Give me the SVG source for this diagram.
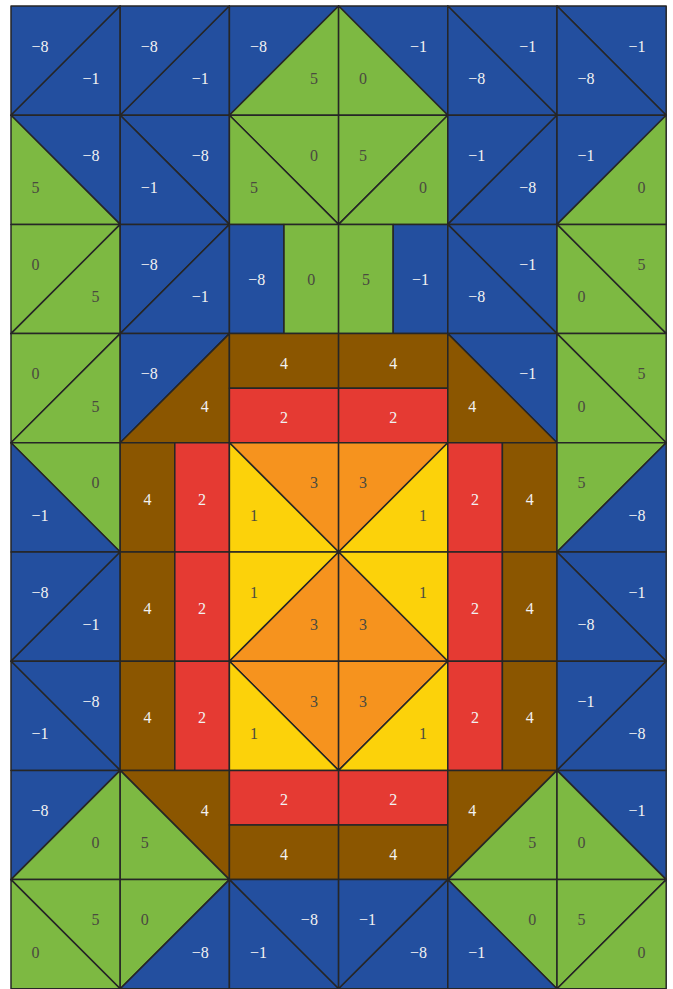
<svg xmlns="http://www.w3.org/2000/svg" xmlns:xlink="http://www.w3.org/1999/xlink" width="673" height="989" viewBox="0 0 673 989">
<style>
use{stroke:#262626;stroke-width:1.5;stroke-linejoin:round}
.b{fill:#234f9f}.g{fill:#7db942}.n{fill:#8b5600}.r{fill:#e53a33}.o{fill:#f6931e}.y{fill:#fcd20a}
text{font-family:"Liberation Serif","DejaVu Serif",serif;font-size:16px}
.w{fill:#f2f2f2}.d{fill:#4a4a40}
.s{text-anchor:start}.e{text-anchor:end}.m{text-anchor:middle}
</style>
<defs>
<path id="ul" d="M0,0H109.2L0,109.2Z"/>
<path id="lr" d="M109.2,0V109.2H0Z"/>
<path id="ur" d="M0,0H109.2V109.2Z"/>
<path id="ll" d="M0,0L109.2,109.2H0Z"/>
<path id="vl" d="M0,0H54.6V109.2H0Z"/>
<path id="vr" d="M54.6,0H109.2V109.2H54.6Z"/>
<path id="ht" d="M0,0H109.2V54.6H0Z"/>
<path id="hb" d="M0,54.6H109.2V109.2H0Z"/>
</defs>
<rect width="673" height="989" fill="#fff"/>
<!-- Row 0 -->
<g id="c00" transform="translate(11,6)"><use href="#ul" class="b"/><use href="#lr" class="b"/><text class="w s" x="20.5" y="45.5">−8</text><text class="w e" x="88.5" y="78">−1</text></g>
<g id="c01" transform="translate(120.2,6)"><use href="#ul" class="b"/><use href="#lr" class="b"/><text class="w s" x="20.5" y="45.5">−8</text><text class="w e" x="88.5" y="78">−1</text></g>
<g id="c02" transform="translate(229.4,6)"><use href="#ul" class="b"/><use href="#lr" class="g"/><text class="w s" x="20.5" y="45.5">−8</text><text class="d e" x="88.5" y="78">5</text></g>
<g id="c03" transform="translate(338.6,6)"><use href="#ur" class="b"/><use href="#ll" class="g"/><text class="w e" x="88.5" y="45.5">−1</text><text class="d s" x="20.5" y="78">0</text></g>
<g id="c04" transform="translate(447.8,6)"><use href="#ur" class="b"/><use href="#ll" class="b"/><text class="w e" x="88.5" y="45.5">−1</text><text class="w s" x="20.5" y="78">−8</text></g>
<g id="c05" transform="translate(557,6)"><use href="#ur" class="b"/><use href="#ll" class="b"/><text class="w e" x="88.5" y="45.5">−1</text><text class="w s" x="20.5" y="78">−8</text></g>
<!-- Row 1 -->
<g id="c10" transform="translate(11,115.2)"><use href="#ur" class="b"/><use href="#ll" class="g"/><text class="w e" x="88.5" y="45.5">−8</text><text class="d s" x="20.5" y="78">5</text></g>
<g id="c11" transform="translate(120.2,115.2)"><use href="#ur" class="b"/><use href="#ll" class="b"/><text class="w e" x="88.5" y="45.5">−8</text><text class="w s" x="20.5" y="78">−1</text></g>
<g id="c12" transform="translate(229.4,115.2)"><use href="#ur" class="g"/><use href="#ll" class="g"/><text class="d e" x="88.5" y="45.5">0</text><text class="d s" x="20.5" y="78">5</text></g>
<g id="c13" transform="translate(338.6,115.2)"><use href="#ul" class="g"/><use href="#lr" class="g"/><text class="d s" x="20.5" y="45.5">5</text><text class="d e" x="88.5" y="78">0</text></g>
<g id="c14" transform="translate(447.8,115.2)"><use href="#ul" class="b"/><use href="#lr" class="b"/><text class="w s" x="20.5" y="45.5">−1</text><text class="w e" x="88.5" y="78">−8</text></g>
<g id="c15" transform="translate(557,115.2)"><use href="#ul" class="b"/><use href="#lr" class="g"/><text class="w s" x="20.5" y="45.5">−1</text><text class="d e" x="88.5" y="78">0</text></g>
<!-- Row 2 -->
<g id="c20" transform="translate(11,224.4)"><use href="#ul" class="g"/><use href="#lr" class="g"/><text class="d s" x="20.5" y="45.5">0</text><text class="d e" x="88.5" y="78">5</text></g>
<g id="c21" transform="translate(120.2,224.4)"><use href="#ul" class="b"/><use href="#lr" class="b"/><text class="w s" x="20.5" y="45.5">−8</text><text class="w e" x="88.5" y="78">−1</text></g>
<g id="c22" transform="translate(229.4,224.4)"><use href="#vl" class="b"/><use href="#vr" class="g"/><text class="w m" x="27.3" y="61">−8</text><text class="d m" x="81.9" y="61">0</text></g>
<g id="c23" transform="translate(338.6,224.4)"><use href="#vl" class="g"/><use href="#vr" class="b"/><text class="d m" x="27.3" y="61">5</text><text class="w m" x="81.9" y="61">−1</text></g>
<g id="c24" transform="translate(447.8,224.4)"><use href="#ur" class="b"/><use href="#ll" class="b"/><text class="w e" x="88.5" y="45.5">−1</text><text class="w s" x="20.5" y="78">−8</text></g>
<g id="c25" transform="translate(557,224.4)"><use href="#ur" class="g"/><use href="#ll" class="g"/><text class="d e" x="88.5" y="45.5">5</text><text class="d s" x="20.5" y="78">0</text></g>
<!-- Row 3 -->
<g id="c30" transform="translate(11,333.6)"><use href="#ul" class="g"/><use href="#lr" class="g"/><text class="d s" x="20.5" y="45.5">0</text><text class="d e" x="88.5" y="78">5</text></g>
<g id="c31" transform="translate(120.2,333.6)"><use href="#ul" class="b"/><use href="#lr" class="n"/><text class="w s" x="20.5" y="45.5">−8</text><text class="w e" x="88.5" y="78">4</text></g>
<g id="c32" transform="translate(229.4,333.6)"><use href="#ht" class="n"/><use href="#hb" class="r"/><text class="w m" x="54.6" y="35">4</text><text class="w m" x="54.6" y="89.5">2</text></g>
<g id="c33" transform="translate(338.6,333.6)"><use href="#ht" class="n"/><use href="#hb" class="r"/><text class="w m" x="54.6" y="35">4</text><text class="w m" x="54.6" y="89.5">2</text></g>
<g id="c34" transform="translate(447.8,333.6)"><use href="#ur" class="b"/><use href="#ll" class="n"/><text class="w e" x="88.5" y="45.5">−1</text><text class="w s" x="20.5" y="78">4</text></g>
<g id="c35" transform="translate(557,333.6)"><use href="#ur" class="g"/><use href="#ll" class="g"/><text class="d e" x="88.5" y="45.5">5</text><text class="d s" x="20.5" y="78">0</text></g>
<!-- Row 4 -->
<g id="c40" transform="translate(11,442.8)"><use href="#ur" class="g"/><use href="#ll" class="b"/><text class="d e" x="88.5" y="45.5">0</text><text class="w s" x="20.5" y="78">−1</text></g>
<g id="c41" transform="translate(120.2,442.8)"><use href="#vl" class="n"/><use href="#vr" class="r"/><text class="w m" x="27.3" y="62">4</text><text class="w m" x="81.9" y="62">2</text></g>
<g id="c42" transform="translate(229.4,442.8)"><use href="#ur" class="o"/><use href="#ll" class="y"/><text class="d e" x="88.5" y="45.5">3</text><text class="d s" x="20.5" y="78">1</text></g>
<g id="c43" transform="translate(338.6,442.8)"><use href="#ul" class="o"/><use href="#lr" class="y"/><text class="d s" x="20.5" y="45.5">3</text><text class="d e" x="88.5" y="78">1</text></g>
<g id="c44" transform="translate(447.8,442.8)"><use href="#vl" class="r"/><use href="#vr" class="n"/><text class="w m" x="27.3" y="62">2</text><text class="w m" x="81.9" y="62">4</text></g>
<g id="c45" transform="translate(557,442.8)"><use href="#ul" class="g"/><use href="#lr" class="b"/><text class="d s" x="20.5" y="45.5">5</text><text class="w e" x="88.5" y="78">−8</text></g>
<!-- Row 5 -->
<g id="c50" transform="translate(11,552)"><use href="#ul" class="b"/><use href="#lr" class="b"/><text class="w s" x="20.5" y="45.5">−8</text><text class="w e" x="88.5" y="78">−1</text></g>
<g id="c51" transform="translate(120.2,552)"><use href="#vl" class="n"/><use href="#vr" class="r"/><text class="w m" x="27.3" y="62">4</text><text class="w m" x="81.9" y="62">2</text></g>
<g id="c52" transform="translate(229.4,552)"><use href="#ul" class="y"/><use href="#lr" class="o"/><text class="d s" x="20.5" y="45.5">1</text><text class="d e" x="88.5" y="78">3</text></g>
<g id="c53" transform="translate(338.6,552)"><use href="#ur" class="y"/><use href="#ll" class="o"/><text class="d e" x="88.5" y="45.5">1</text><text class="d s" x="20.5" y="78">3</text></g>
<g id="c54" transform="translate(447.8,552)"><use href="#vl" class="r"/><use href="#vr" class="n"/><text class="w m" x="27.3" y="62">2</text><text class="w m" x="81.9" y="62">4</text></g>
<g id="c55" transform="translate(557,552)"><use href="#ur" class="b"/><use href="#ll" class="b"/><text class="w e" x="88.5" y="45.5">−1</text><text class="w s" x="20.5" y="78">−8</text></g>
<!-- Row 6 -->
<g id="c60" transform="translate(11,661.2)"><use href="#ur" class="b"/><use href="#ll" class="b"/><text class="w e" x="88.5" y="45.5">−8</text><text class="w s" x="20.5" y="78">−1</text></g>
<g id="c61" transform="translate(120.2,661.2)"><use href="#vl" class="n"/><use href="#vr" class="r"/><text class="w m" x="27.3" y="62">4</text><text class="w m" x="81.9" y="62">2</text></g>
<g id="c62" transform="translate(229.4,661.2)"><use href="#ur" class="o"/><use href="#ll" class="y"/><text class="d e" x="88.5" y="45.5">3</text><text class="d s" x="20.5" y="78">1</text></g>
<g id="c63" transform="translate(338.6,661.2)"><use href="#ul" class="o"/><use href="#lr" class="y"/><text class="d s" x="20.5" y="45.5">3</text><text class="d e" x="88.5" y="78">1</text></g>
<g id="c64" transform="translate(447.8,661.2)"><use href="#vl" class="r"/><use href="#vr" class="n"/><text class="w m" x="27.3" y="62">2</text><text class="w m" x="81.9" y="62">4</text></g>
<g id="c65" transform="translate(557,661.2)"><use href="#ul" class="b"/><use href="#lr" class="b"/><text class="w s" x="20.5" y="45.5">−1</text><text class="w e" x="88.5" y="78">−8</text></g>
<!-- Row 7 -->
<g id="c70" transform="translate(11,770.4)"><use href="#ul" class="b"/><use href="#lr" class="g"/><text class="w s" x="20.5" y="45.5">−8</text><text class="d e" x="88.5" y="78">0</text></g>
<g id="c71" transform="translate(120.2,770.4)"><use href="#ur" class="n"/><use href="#ll" class="g"/><text class="w e" x="88.5" y="45.5">4</text><text class="d s" x="20.5" y="78">5</text></g>
<g id="c72" transform="translate(229.4,770.4)"><use href="#ht" class="r"/><use href="#hb" class="n"/><text class="w m" x="54.6" y="35">2</text><text class="w m" x="54.6" y="90">4</text></g>
<g id="c73" transform="translate(338.6,770.4)"><use href="#ht" class="r"/><use href="#hb" class="n"/><text class="w m" x="54.6" y="35">2</text><text class="w m" x="54.6" y="90">4</text></g>
<g id="c74" transform="translate(447.8,770.4)"><use href="#ul" class="n"/><use href="#lr" class="g"/><text class="w s" x="20.5" y="45.5">4</text><text class="d e" x="88.5" y="78">5</text></g>
<g id="c75" transform="translate(557,770.4)"><use href="#ur" class="b"/><use href="#ll" class="g"/><text class="w e" x="88.5" y="45.5">−1</text><text class="d s" x="20.5" y="78">0</text></g>
<!-- Row 8 -->
<g id="c80" transform="translate(11,879.6)"><use href="#ur" class="g"/><use href="#ll" class="g"/><text class="d e" x="88.5" y="45.5">5</text><text class="d s" x="20.5" y="78">0</text></g>
<g id="c81" transform="translate(120.2,879.6)"><use href="#ul" class="g"/><use href="#lr" class="b"/><text class="d s" x="20.5" y="45.5">0</text><text class="w e" x="88.5" y="78">−8</text></g>
<g id="c82" transform="translate(229.4,879.6)"><use href="#ur" class="b"/><use href="#ll" class="b"/><text class="w e" x="88.5" y="45.5">−8</text><text class="w s" x="20.5" y="78">−1</text></g>
<g id="c83" transform="translate(338.6,879.6)"><use href="#ul" class="b"/><use href="#lr" class="b"/><text class="w s" x="20.5" y="45.5">−1</text><text class="w e" x="88.5" y="78">−8</text></g>
<g id="c84" transform="translate(447.8,879.6)"><use href="#ur" class="g"/><use href="#ll" class="b"/><text class="d e" x="88.5" y="45.5">0</text><text class="w s" x="20.5" y="78">−1</text></g>
<g id="c85" transform="translate(557,879.6)"><use href="#ul" class="g"/><use href="#lr" class="g"/><text class="d s" x="20.5" y="45.5">5</text><text class="d e" x="88.5" y="78">0</text></g>
</svg>
